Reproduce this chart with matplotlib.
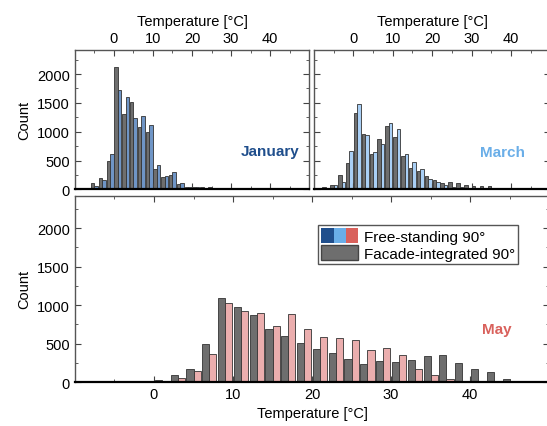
import numpy as np
import matplotlib.pyplot as plt
from matplotlib.patches import Patch
from matplotlib.legend_handler import HandlerTuple
from matplotlib.ticker import MultipleLocator, FixedLocator

plt.rcParams['font.family'] = ['Liberation Sans', 'DejaVu Sans']
plt.rcParams['font.size'] = 10.5

# bin left edges, 2 degC wide
jan_bins = np.arange(-6, 32, 2)
jan_free = [60, 160, 615, 1718, 1597, 1234, 1280, 1125, 426, 230, 294, 115, 35, 35, 5, 3, 0, 5, 0]
jan_facade = [105, 195, 490, 2116, 1308, 1508, 1078, 994, 346, 213, 247, 92, 45, 50, 35, 35, 17, 23, 5]

mar_bins = np.arange(-8, 42, 2)
mar_free = [0, 69, 132, 674, 1482, 940, 657, 796, 1159, 1043, 616, 480, 351, 180, 121, 80, 40, 35, 17, 5, 3, 0, 0, 0, 0]
mar_facade = [34, 74, 248, 455, 1332, 962, 611, 882, 1107, 910, 576, 363, 317, 225, 161, 114, 126, 109, 69, 52, 52, 52, 28, 23, 0]

may_bins = np.arange(0, 48, 2)
may_free = [5, 56, 147, 360, 1022, 922, 900, 723, 883, 688, 588, 577, 546, 411, 441, 346, 165, 87, 35, 5, 0, 0, 0, 0]
may_facade = [30, 91, 169, 494, 1091, 970, 866, 688, 593, 502, 432, 373, 302, 237, 271, 256, 290, 342, 346, 251, 165, 134, 35, 4]

x_ticks = [0, 10, 20, 30, 40]

gray = '#6e6e6e'
jan_col, jan_bar = '#1f4e8c', '#6f95c6'
mar_col, mar_bar = '#6aaee8', '#a9cff5'
may_col, may_bar = '#d9615c', '#ebaeae'


def style(ax, top_labels):
    ax.set_xlim(-10, 50)
    ax.set_ylim(0, 2420)
    ax.xaxis.set_major_locator(FixedLocator(x_ticks))
    ax.xaxis.set_minor_locator(FixedLocator([-5, 5, 15, 25, 35, 45]))
    ax.yaxis.set_major_locator(MultipleLocator(500))
    ax.yaxis.set_minor_locator(MultipleLocator(250))
    ax.tick_params(which='both', direction='in', top=True, right=True,
                   colors='#444444', labelcolor='black')
    ax.tick_params(which='major', length=4)
    ax.tick_params(which='minor', length=2.5)
    if top_labels:
        ax.tick_params(labeltop=True, labelbottom=False)
        ax.xaxis.set_label_position('top')
    for s in ['top', 'left', 'right']:
        ax.spines[s].set_color('#555555')
        ax.spines[s].set_linewidth(1.0)
    ax.spines['bottom'].set_color('black')
    ax.spines['bottom'].set_linewidth(1.6)


def bars(ax, bins, facade, free, color):
    ax.bar(bins + 0.1, facade, width=0.9, align='edge', color=gray,
           edgecolor='#333333', linewidth=0.6)
    ax.bar(bins + 1.0, free, width=0.9, align='edge', color=color,
           edgecolor='#333333', linewidth=0.6)


fig = plt.figure(figsize=(5.47, 4.27), dpi=100)
ax1 = fig.add_axes([0.137, 0.554, 0.428, 0.327])
ax2 = fig.add_axes([0.574, 0.554, 0.432, 0.327])
ax3 = fig.add_axes([0.137, 0.103, 0.867, 0.436])

bars(ax1, jan_bins, jan_facade, jan_free, jan_bar)
bars(ax2, mar_bins, mar_facade, mar_free, mar_bar)
bars(ax3, may_bins, may_facade, may_free, may_bar)

style(ax1, True)
style(ax2, True)
style(ax3, False)
ax2.tick_params(labelleft=False)

ax1.set_xlabel('Temperature [°C]')
ax2.set_xlabel('Temperature [°C]')
ax3.set_xlabel('Temperature [°C]')
ax1.set_ylabel('Count')
ax3.set_ylabel('Count')

ax1.text(0.957, 0.275, 'January', transform=ax1.transAxes, ha='right', va='center',
         color=jan_col, fontweight='bold', fontsize=11)
ax2.text(0.895, 0.27, 'March', transform=ax2.transAxes, ha='right', va='center',
         color=mar_col, fontweight='bold', fontsize=11)
ax3.text(0.92, 0.285, 'May', transform=ax3.transAxes, ha='right', va='center',
         color=may_col, fontweight='bold', fontsize=11)

free_handle = (Patch(facecolor=jan_col, edgecolor='none'),
               Patch(facecolor=mar_col, edgecolor='none'),
               Patch(facecolor=may_col, edgecolor='none'))
fac_handle = Patch(facecolor=gray, edgecolor='#444444')
leg = ax3.legend([free_handle, fac_handle], ['Free-standing 90°', 'Facade-integrated 90°'],
                 handler_map={tuple: HandlerTuple(ndivide=None, pad=0)},
                 loc='upper left', bbox_to_anchor=(0.513, 0.845), borderaxespad=0,
                 fancybox=False, edgecolor='#555555', framealpha=1, fontsize=11,
                 handlelength=2.4, handleheight=1.15, labelspacing=0.1,
                 handletextpad=0.4, borderpad=0.2)
leg.get_frame().set_linewidth(1.0)

plt.savefig('out.png', dpi=100)
